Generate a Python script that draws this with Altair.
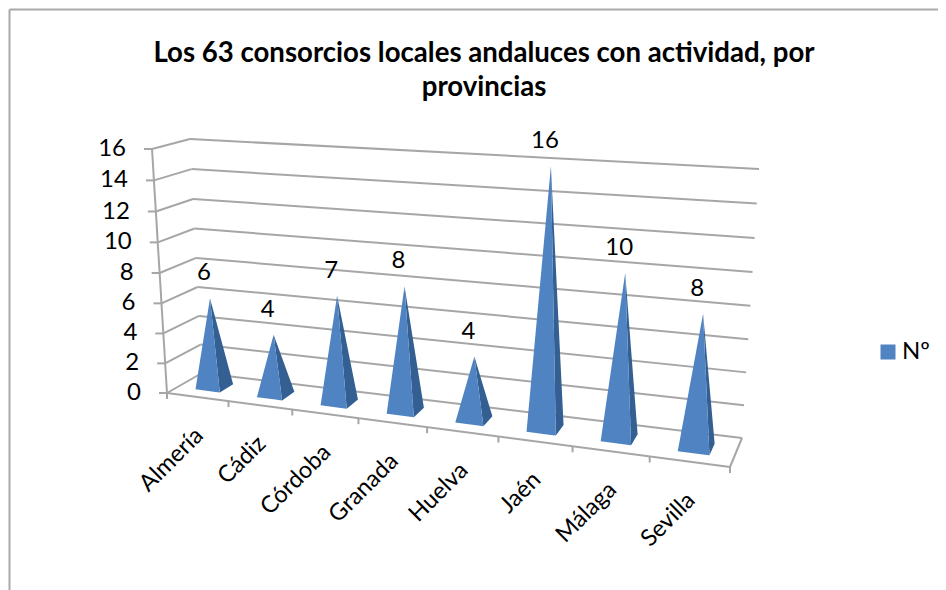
import altair as alt
import pandas as pd

# ---- data ----
categories = ["Almería", "Cádiz", "Córdoba", "Granada", "Huelva", "Jaén", "Málaga", "Sevilla"]
values = [6, 4, 7, 8, 4, 16, 10, 8]
y_ticks = [0, 2, 4, 6, 8, 10, 12, 14, 16]
series_name = "Nº"
title_lines = ["Los 63 consorcios locales andaluces con actividad, por", "provincias"]

# ---- oblique 3D frame: category / depth / value -> screen ----
W, H = 930, 582
VMAX = 16
N = len(categories)
FRONT_LOW_L, FRONT_LOW_R = (167, 393), (730, 467)
BACK_LOW_L, BACK_LOW_R = (202, 373), (742, 438)
FRONT_TOP_L, FRONT_TOP_R = (152, 149), (745, 187)
BACK_TOP_L, BACK_TOP_R = (190, 139), (759, 169)
PERSP = -0.01766
PERSP_V = -0.002


def mix(a, b, t):
    return (a[0] + (b[0] - a[0]) * t, a[1] + (b[1] - a[1]) * t)


def project(u, d, v):
    s = u * (1 + N * PERSP) / (N * (1 + PERSP * u))
    w = v * (1 + VMAX * PERSP_V) / (VMAX * (1 + PERSP_V * v))
    low = mix(mix(FRONT_LOW_L, FRONT_LOW_R, s), mix(BACK_LOW_L, BACK_LOW_R, s), d)
    top = mix(mix(FRONT_TOP_L, FRONT_TOP_R, s), mix(BACK_TOP_L, BACK_TOP_R, s), d)
    return mix(low, top, w)


line_rows = []


def add_line(name, a, b):
    line_rows.append({"id": name, "k": 0, "x": a[0], "y": a[1]})
    line_rows.append({"id": name, "k": 1, "x": b[0], "y": b[1]})


for t in y_ticks:
    add_line(f"back{t}", project(0, 1, t), project(N, 1, t))
    add_line(f"side{t}", project(0, 0, t), project(0, 1, t))
    p = project(0, 0, t)
    add_line(f"ytick{t}", (p[0] - 8, p[1]), p)
add_line("axis", project(0, 0, 0), project(0, 0, VMAX))
add_line("front", project(0, 0, 0), project(N, 0, 0))
add_line("right", project(N, 0, 0), project(N, 1, 0))
for i in range(N + 1):
    p = project(i, 0, 0)
    add_line(f"xtick{i}", p, (p[0], p[1] + 6))
lines = pd.DataFrame(line_rows)


def triangle_rows(name, tri):
    a, b, c = sorted(tri)
    mid = a[1] + (c[1] - a[1]) * (b[0] - a[0]) / (c[0] - a[0])
    return [
        {"id": name, "x": a[0], "y": a[1], "y2": a[1], "serie": series_name},
        {"id": name, "x": b[0], "y": b[1], "y2": mid, "serie": series_name},
        {"id": name, "x": c[0], "y": c[1], "y2": c[1], "serie": series_name},
    ]


DU, DD = 0.2, 0.2
front_rows, side_rows, value_rows, cat_rows = [], [], [], []
for i, (cat, val) in enumerate(zip(categories, values)):
    u = i + 0.5
    apex = project(u, 0.5, val)
    fl = project(u - DU, 0.5 - DD, 0)
    fr = project(u + DU, 0.5 - DD, 0)
    br = project(u + DU, 0.5 + DD, 0)
    front_rows += triangle_rows(cat, [fl, fr, apex])
    side_rows += triangle_rows(cat, [fr, br, apex])
    value_rows.append({"x": apex[0] - 6, "y": apex[1] - 25, "t": str(val)})
    base = project(u, 0, 0)
    cat_rows.append({"x": base[0] + 2, "y": base[1] + 35, "t": cat})

front_df = pd.DataFrame(front_rows)
side_df = pd.DataFrame(side_rows)
value_df = pd.DataFrame(value_rows)
cat_df = pd.DataFrame(cat_rows)
ytick_df = pd.DataFrame(
    [{"x": project(0, 0, t)[0] - 26, "y": project(0, 0, t)[1], "t": str(t)} for t in y_ticks]
)
title_df = pd.DataFrame(
    [{"x": 484, "y": 54, "t": title_lines[0]}, {"x": 484, "y": 88, "t": title_lines[1]}]
)
border_df = pd.DataFrame(
    [
        {"id": "l", "k": 0, "x": 9.5, "y": 9.5},
        {"id": "l", "k": 1, "x": 9.5, "y": 590},
        {"id": "t", "k": 0, "x": 9.5, "y": 9.5},
        {"id": "t", "k": 1, "x": 938, "y": 9.5},
    ]
)

# ---- chart ----
FONT = "Lato"
X = alt.X("x:Q", scale=alt.Scale(domain=[8, 8 + W], nice=False, zero=False), axis=None)
Y = alt.Y("y:Q", scale=alt.Scale(domain=[8 + H, 8], nice=False, zero=False), axis=None, stack=None)
XYT = dict(x=X, y=Y, text="t:N")

border = alt.Chart(border_df).mark_line(color="#a9a9a9", strokeWidth=2).encode(
    x=X, y=Y, detail="id:N", order="k:Q"
)
grid = alt.Chart(lines).mark_line(color="#a6a6a6", strokeWidth=2).encode(
    x=X, y=Y, detail="id:N", order="k:Q"
)
front = alt.Chart(front_df).mark_area(orient="vertical").encode(
    x=X,
    y=Y,
    y2="y2:Q",
    detail="id:N",
    color=alt.Color(
        "serie:N",
        scale=alt.Scale(range=["#4f83c2"]),
        legend=alt.Legend(
            title=None,
            orient="none",
            legendX=868,
            legendY=332,
            symbolType="square",
            symbolSize=225,
            symbolStrokeWidth=0,
            labelFont=FONT,
            labelFontSize=24,
            labelColor="#000000",
            labelOffset=2,
        ),
    ),
)
side = alt.Chart(side_df).mark_area(orient="vertical", color="#335f92").encode(
    x=X, y=Y, y2="y2:Q", detail="id:N"
)
value_text = alt.Chart(value_df).mark_text(font=FONT, fontSize=24, color="#000000", baseline="middle").encode(**XYT)
ytick_text = alt.Chart(ytick_df).mark_text(font=FONT, fontSize=24, color="#000000", align="right", baseline="middle").encode(**XYT)
cat_text = alt.Chart(cat_df).mark_text(font=FONT, fontSize=23.5, color="#000000", align="right", baseline="middle", angle=315).encode(**XYT)
title_text = alt.Chart(title_df).mark_text(font=FONT, fontSize=27.6, fontWeight="bold", color="#000000", baseline="middle").encode(**XYT)

chart = (
    alt.layer(border, grid, side, front, value_text, ytick_text, cat_text, title_text)
    .properties(width=W, height=H, padding=0, autosize=alt.AutoSizeParams(type="none"), background="#ffffff")
    .configure_view(stroke=None)
)
chart.save("out.html", embed_options={"renderer": "svg", "actions": False})
